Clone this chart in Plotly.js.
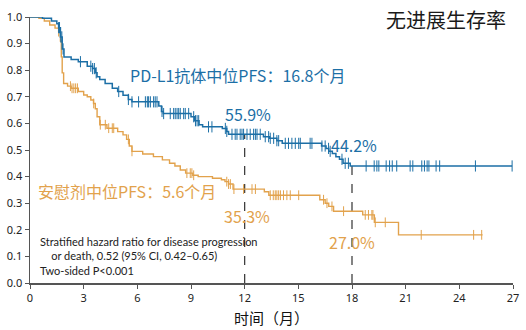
<!DOCTYPE html>
<html><head><meta charset="utf-8">
<script src="https://cdn.plot.ly/plotly-3.0.1.min.js"></script>
<style>html,body{margin:0;padding:0;background:#fff}#chart{width:526px;height:330px}</style>
</head><body><div id="chart"></div>
<script>
// Kaplan-Meier step data (months, survival)
const pdl1Time = [0,0.7,1.2,1.5,1.6,1.7,1.8,1.9,2.3,2.7,3.2,3.5,3.65,3.75,3.9,4.2,4.6,4.9,5.2,5.5,5.7,7.2,7.35,7.45,9.0,9.2,9.45,9.65,10.75,11.0,11.1,13.05,13.4,13.8,14.1,16.3,16.55,16.7,16.9,17.1,17.3,17.5,17.9,26.95];
const pdl1Surv = [1.0,0.995,0.985,0.975,0.96,0.925,0.88,0.85,0.84,0.832,0.815,0.806,0.79,0.775,0.765,0.75,0.732,0.72,0.706,0.69,0.681,0.665,0.645,0.637,0.625,0.61,0.595,0.587,0.581,0.57,0.559,0.55,0.544,0.535,0.525,0.515,0.506,0.495,0.487,0.475,0.465,0.45,0.44,0.44];
const pdl1Censor = [1.6,1.65,1.72,1.78,1.85,2.82,3.4,3.5,3.6,3.7,4.96,5.5,5.7,6.07,6.45,6.56,6.63,6.73,6.91,7.0,7.1,7.38,7.47,7.84,8.03,8.12,8.22,8.31,8.4,8.59,8.68,8.87,9.15,9.25,9.34,9.43,9.98,10.17,10.92,11.0,11.29,11.47,11.57,11.75,11.85,11.94,12.13,12.31,12.5,12.6,12.69,12.87,13.15,13.34,13.43,13.62,13.8,13.9,14.27,14.45,14.64,14.83,15.02,15.11,15.66,15.76,16.32,16.5,16.69,16.78,17.44,17.62,17.8,18.79,19.24,19.39,19.5,19.91,20.1,20.25,20.5,21.25,21.4,21.9,22.05,22.2,22.3,22.7,22.9,24.9,26.95];

const placTime = [0,0.5,0.8,1.1,1.4,1.6,1.7,1.75,1.8,1.88,2.1,2.3,2.7,3.0,3.2,3.4,3.55,3.65,3.75,3.9,4.3,4.9,5.2,5.4,5.55,5.7,6.3,6.9,7.4,7.8,8.1,8.4,8.7,9.1,9.4,10.2,10.7,10.9,11.1,11.35,13.1,13.35,16.2,16.5,16.7,16.97,18.6,19.25,20.6,25.3];
const placSurv = [1.0,0.995,0.985,0.97,0.958,0.945,0.91,0.85,0.79,0.75,0.74,0.732,0.72,0.707,0.70,0.688,0.675,0.655,0.625,0.595,0.582,0.569,0.557,0.54,0.515,0.495,0.485,0.475,0.463,0.45,0.44,0.425,0.413,0.405,0.40,0.394,0.388,0.381,0.372,0.353,0.343,0.33,0.313,0.30,0.288,0.27,0.256,0.228,0.181,0.181];
const placCensor = [1.6,2.26,2.35,2.45,2.55,2.65,3.56,3.93,4.21,4.4,4.6,4.68,5.5,5.7,8.77,8.96,9.05,9.15,11.0,11.1,11.2,11.4,11.94,12.41,12.6,13.43,13.6,13.71,13.8,13.9,14.0,14.17,14.36,14.55,15.02,16.41,16.6,16.88,17.53,18.74,18.92,19.11,19.17,19.3,19.86,21.87,24.8,25.25];

const landmarkTimes = [12, 18];
const pdl1Landmark = [0.559, 0.442];
const placLandmark = [0.353, 0.270];
const xTicks = [0,3,6,9,12,15,18,21,24,27];
const yTicks = [0,0.1,0.2,0.3,0.4,0.5,0.6,0.7,0.8,0.9,1.0];

const BLUE = '#1c6fa6', ORANGE = '#e2a24c';
const CJK = '"Noto Sans CJK SC", "Noto Sans", sans-serif';

function stepAt(ts, ss, t){ let v = ss[0]; for (let i=0;i<ts.length;i++){ if (ts[i] <= t) v = ss[i]; } return v; }

const traces = [
  {x: placTime, y: placSurv, mode:'lines', line:{shape:'hv', color:ORANGE, width:1.4}, hoverinfo:'skip', cliponaxis:false},
  {x: placCensor, y: placCensor.map(t=>stepAt(placTime,placSurv,t)), mode:'markers', marker:{symbol:'line-ns-open', size:7, color:ORANGE, line:{color:ORANGE, width:1}}, hoverinfo:'skip', cliponaxis:false},
  {x: pdl1Time, y: pdl1Surv, mode:'lines', line:{shape:'hv', color:BLUE, width:1.5}, hoverinfo:'skip', cliponaxis:false},
  {x: pdl1Censor, y: pdl1Censor.map(t=>stepAt(pdl1Time,pdl1Surv,t)), mode:'markers', marker:{symbol:'line-ns-open', size:8, color:BLUE, line:{color:BLUE, width:1}}, hoverinfo:'skip', cliponaxis:false}
];

const shapes = landmarkTimes.map((t,i)=>({type:'line', xref:'x', yref:'y', x0:t, x1:t, y0:0, y1:pdl1Landmark[i], line:{color:'#333', width:1.2, dash:'dash'}, layer:'below'}));

const annotations = [
  {text:'无进展生存率', xref:'paper', yref:'paper', x:0.861, y:0.99, xanchor:'center', yanchor:'middle', showarrow:false, font:{family:CJK, size:20, color:'#1a1a1a', weight:'normal'}},
  {text:'PD-L1抗体中位PFS：16.8个月', xref:'x', yref:'y', x:11.6, y:0.782, xanchor:'center', showarrow:false, font:{family:CJK, size:16, color:BLUE}},
  {text:'安慰剂中位PFS：5.6个月', xref:'x', yref:'y', x:5.4, y:0.345, xanchor:'center', showarrow:false, font:{family:CJK, size:16, color:ORANGE}},
  {text:(pdl1Landmark[0]*100).toFixed(1)+'%', xref:'x', yref:'y', x:12.2, y:0.636, xanchor:'center', showarrow:false, font:{family:CJK, size:16, color:BLUE}},
  {text:(pdl1Landmark[1]*100).toFixed(1)+'%', xref:'x', yref:'y', x:18.1, y:0.519, xanchor:'center', showarrow:false, font:{family:CJK, size:16, color:BLUE}},
  {text:(placLandmark[0]*100).toFixed(1)+'%', xref:'x', yref:'y', x:12.15, y:0.253, xanchor:'center', showarrow:false, font:{family:CJK, size:16, color:ORANGE}},
  {text:(placLandmark[1]*100).toFixed(1)+'%', xref:'x', yref:'y', x:18.0, y:0.155, xanchor:'center', showarrow:false, font:{family:CJK, size:16, color:ORANGE}},
  {text:'Stratified hazard ratio for disease progression<br>&nbsp;&nbsp;&nbsp;&nbsp;or death, 0.52 (95% CI, 0.42–0.65)<br>Two-sided P<0.001', xref:'x', yref:'y', x:0.45, y:0.103, xanchor:'left', yanchor:'middle', align:'left', showarrow:false, font:{family:'Lato, "Noto Sans", sans-serif', size:11, color:'#222'}},
  {text:'时间（月）', xref:'paper', yref:'paper', x:0.5, y:-0.13, xanchor:'center', yanchor:'middle', showarrow:false, font:{family:CJK, size:15, color:'#111'}}
];

const layout = {
  width:526, height:330,
  margin:{l:29.6, r:13, t:17, b:46.7},
  paper_bgcolor:'#fff', plot_bgcolor:'#fff',
  showlegend:false,
  xaxis:{range:[0,27], tickvals:xTicks, ticktext:xTicks.map(String), showline:true, linecolor:'#555', linewidth:1.5, ticks:'outside', ticklen:4, tickcolor:'#555', showgrid:false, zeroline:false, tickfont:{family:'"Noto Sans", sans-serif', size:11, color:'#222'}, fixedrange:true},
  yaxis:{range:[0,1], tickvals:yTicks, ticktext:yTicks.map(v=>v.toFixed(1)), showline:true, linecolor:'#555', linewidth:1.5, ticks:'outside', ticklen:4, tickcolor:'#555', showgrid:false, zeroline:false, tickfont:{family:'"Noto Sans", sans-serif', size:11, color:'#222'}, fixedrange:true},
  shapes: shapes,
  annotations: annotations
};

Plotly.newPlot('chart', traces, layout, {displayModeBar:false, staticPlot:true});
</script></body></html>
